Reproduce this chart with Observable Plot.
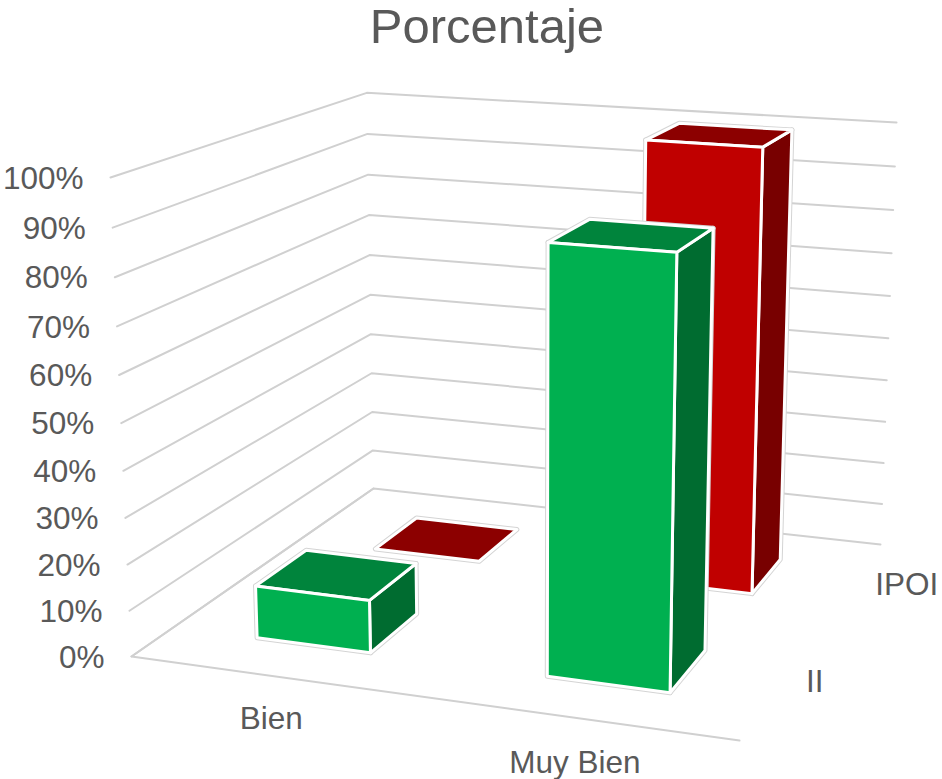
<!DOCTYPE html>
<html><head><meta charset="utf-8">
<script src="https://cdn.jsdelivr.net/npm/d3@7"></script>
<script src="https://cdn.jsdelivr.net/npm/@observablehq/plot@0.6"></script>
<style>
html,body{margin:0;padding:0;background:#fff;overflow:hidden}
#title{height:60px;box-sizing:border-box;padding-left:32px;text-align:center;font:49px/52px "Liberation Sans",Arial,sans-serif;color:#595959}
svg{display:block;font-family:"Liberation Sans",Arial,sans-serif}
</style></head><body>
<div id="title">Porcentaje</div>
<div id="chart"></div>
<script>
const categories = ["Bien", "Muy Bien"];
const series = ["II", "IPOI"];
const valuesII = [11.5, 89.5];
const valuesIPOI = [0, 100];
const percentTicks = [0,10,20,30,40,50,60,70,80,90,100];

// Camera of the 3D box: floor corners on the page plus the front-left top corner.
const floor = [[131,656],[739,740],[880,544],[373,488]];
const frontLeftTop = [110,177];
const depthPerHeight = -0.05;
const [[x0,y0],[x1,y1],[x2,y2],[x3,y3]] = floor;
const dx1=x1-x2,dx2=x3-x2,sx=x0-x1+x2-x3,dy1=y1-y2,dy2=y3-y2,sy=y0-y1+y2-y3;
const den=dx1*dy2-dx2*dy1;
const g=(sx*dy2-dx2*sy)/den,h=(dx1*sy-sx*dy1)/den;
const a=x1-x0+g*x1,b=x3-x0+h*x3,d=y1-y0+g*y1,e=y3-y0+h*y3;
const cx=frontLeftTop[0]*(1+depthPerHeight)-x0, cy=frontLeftTop[1]*(1+depthPerHeight)-y0;
function project(u,v,p){
  const f=p/100, w=g*u+h*v+1+depthPerHeight*f;
  return [(a*u+b*v+cx*f+x0)/w,(d*u+e*v+cy*f+y0)/w];
}
const barU=0.2, barV=0.2;
function box(i,j,val){
  const u0=(i+.5)/categories.length-barU/2,u1=u0+barU;
  const v0=(j+.5)/series.length-barV/2,v1=v0+barV;
  return {
    front:[[u0,v0,0],[u1,v0,0],[u1,v0,val],[u0,v0,val]],
    side:[[u1,v0,0],[u1,v1,0],[u1,v1,val],[u1,v0,val]],
    top:[[u0,v0,val],[u1,v0,val],[u1,v1,val],[u0,v1,val]]
  };
}
const px=d=>project(d[0],d[1],d[2])[0], py=d=>project(d[0],d[1],d[2])[1];
const marks=[];
for(const p of percentTicks){
  marks.push(Plot.line([[0,0,p],[0,1,p],[1,1,p]],{x:px,y:py,stroke:"#d0d0d0",strokeWidth:2}));
}
marks.push(Plot.line([[0,1,0],[0,0,0],[1,0,0]],{x:px,y:py,stroke:"#d0d0d0",strokeWidth:2}));
const palette=[
  {front:"#00b050",top:"#00843c",side:"#006c30"},
  {front:"#c00000",top:"#8c0000",side:"#780000"}
];
const rows=[{vals:valuesIPOI,j:1,c:palette[1]},{vals:valuesII,j:0,c:palette[0]}];
for(const r of rows){
  r.vals.forEach((val,i)=>{
    const b=box(i,r.j,val);
    const faces = val===0 ? ["top"] : ["side","top","front"];
    for(const f of faces) marks.push(Plot.line(b[f],{x:px,y:py,curve:"linear-closed",fill:"#fff",stroke:"#d4d4d4",strokeWidth:5,strokeLinejoin:"round"}));
    for(const f of faces) marks.push(Plot.line(b[f],{x:px,y:py,curve:"linear-closed",fill:r.c[f],stroke:"#fff",strokeWidth:3,strokeLinejoin:"round"}));
  });
}
const textStyle={fill:"#595959",fontSize:31.5,fontFamily:"Liberation Sans"};
marks.push(Plot.text(percentTicks,{x:p=>project(0,0,p)[0],y:p=>project(0,0,p)[1],text:p=>p+"%",textAnchor:"end",dx:-27,dy:1,...textStyle}));
const labelAt=(u,v,text,dx,dy)=>Plot.text([text],{x:()=>project(u,v,0)[0],y:()=>project(u,v,0)[1],text:t=>t,dx,dy,...textStyle});
marks.push(labelAt(.25,0,categories[0],-3,43));
marks.push(labelAt(.75,0,categories[1],-3,45));
marks.push(labelAt(1,.25,series[0],34,-1));
marks.push(labelAt(1,.75,series[1],56,-1));
const chart=Plot.plot({width:942,height:719,margin:0,
  x:{domain:[0,942],range:[0,942],axis:null},
  y:{domain:[60,779],range:[0,719],axis:null},
  style:{background:"#fff",overflow:"visible"},
  marks});
document.getElementById("chart").append(chart);
</script></body></html>
